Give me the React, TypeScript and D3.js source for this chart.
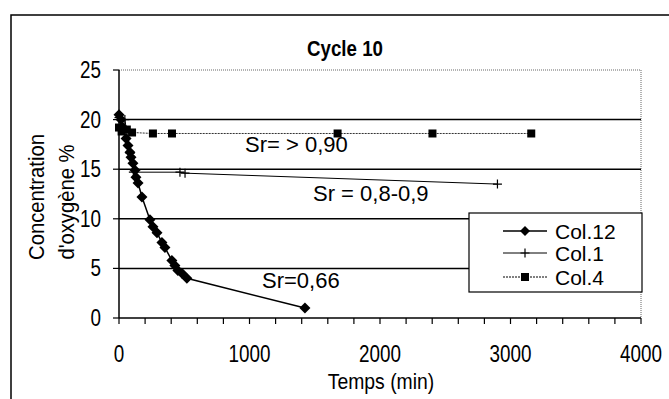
import React from "react";
import * as d3 from "d3";

const title = "Cycle 10";
const xTicks = [0, 1000, 2000, 3000, 4000];
const xMinorTicks = d3.range(0, 4001, 200);
const yTicks = [0, 5, 10, 15, 20, 25];
const xLabel = "Temps (min)";
const yLabelLines = ["Concentration", "d'oxygène %"];

const col12X = [0, 15, 30, 54, 69, 84, 92, 107, 123, 130, 146, 176, 237, 260, 291, 329, 352, 405, 428, 451, 482, 520, 1425];
const col12Y = [20.5, 20.0, 19.2, 18.1, 17.4, 16.7, 16.2, 15.6, 14.9, 14.2, 13.6, 12.2, 9.9, 9.2, 8.6, 7.6, 7.1, 5.8, 5.3, 4.8, 4.5, 4.0, 1.0];
const col1X = [0, 45, 85, 110, 467, 506, 2900];
const col1Y = [20.2, 20.0, 16.6, 14.7, 14.7, 14.6, 13.5];
const col4X = [0, 20, 60, 100, 260, 406, 1675, 2402, 3159];
const col4Y = [19.2, 18.8, 19.0, 18.7, 18.6, 18.6, 18.6, 18.6, 18.6];

const seriesNames = ["Col.12", "Col.1", "Col.4"];
const annotations = [
  { text: "Sr= > 0,90", x: 245, y: 152 },
  { text: "Sr = 0,8-0,9", x: 313, y: 201 },
  { text: "Sr=0,66", x: 262, y: 288 },
];

const FONT = "'Liberation Sans', Arial, sans-serif";

function Diamond({ cx, cy, r = 5.5 }: { cx: number; cy: number; r?: number }) {
  return <path d={`M${cx},${cy - r}L${cx + r},${cy}L${cx},${cy + r}L${cx - r},${cy}Z`} fill="#000" />;
}
function Square({ cx, cy, s = 8 }: { cx: number; cy: number; s?: number }) {
  return <rect x={cx - s / 2} y={cy - s / 2} width={s} height={s} fill="#000" />;
}
function Plus({ cx, cy, s = 4.5 }: { cx: number; cy: number; s?: number }) {
  return <path d={`M${cx - s},${cy}H${cx + s}M${cx},${cy - s}V${cy + s}`} stroke="#000" strokeWidth={1.2} fill="none" />;
}

function NText({ x, y, anchor = "start", size = 22, sx = 0.85, bold = false, children }: any) {
  return (
    <text transform={`translate(${x},${y}) scale(${sx},1)`} textAnchor={anchor} fontSize={size} fontWeight={bold ? "bold" : "normal"}>
      {children}
    </text>
  );
}

export default function App() {
  const x = d3.scaleLinear().domain([0, 4000]).range([119, 641]);
  const y = d3.scaleLinear().domain([0, 25]).range([318, 70]);
  const line = d3.line<[number, number]>().x((d) => x(d[0])).y((d) => y(d[1]));
  const s12 = col12X.map((v, i) => [v, col12Y[i]] as [number, number]);
  const s1 = col1X.map((v, i) => [v, col1Y[i]] as [number, number]);
  const s4 = col4X.map((v, i) => [v, col4Y[i]] as [number, number]);

  const legY = [231, 253, 277];

  return (
    <svg width={669} height={399} style={{ position: "absolute", left: 0, top: 0, background: "#fff" }} fontFamily={FONT}>
      <rect x={0} y={0} width={669} height={399} fill="#fff" />
      <rect x={11} y={15} width={700} height={420} fill="none" stroke="#000" strokeWidth={1.5} />
      <NText x={345} y={56} anchor="middle" size={22} sx={0.85} bold>{title}</NText>

      <line x1={x(0)} x2={x(4000)} y1={y(25)} y2={y(25)} stroke="#666" strokeWidth={1} strokeDasharray="1,1" />
      <line x1={x(4000)} x2={x(4000)} y1={y(25)} y2={y(0)} stroke="#666" strokeWidth={1} strokeDasharray="1,1" />
      {yTicks.filter((t) => t > 0 && t < 25).map((t) => (
        <line key={t} x1={x(0)} x2={x(4000)} y1={y(t)} y2={y(t)} stroke="#000" strokeWidth={1.5} />
      ))}
      <line x1={x(0)} x2={x(0)} y1={y(25)} y2={y(0)} stroke="#000" strokeWidth={1.5} />
      <line x1={x(0)} x2={x(4000)} y1={y(0)} y2={y(0)} stroke="#000" strokeWidth={1.5} />
      {yTicks.map((t) => (
        <g key={t}>
          <line x1={x(0) - 6} x2={x(0)} y1={y(t)} y2={y(t)} stroke="#000" strokeWidth={1.2} />
          <NText x={101} y={y(t) + 8} anchor="end" size={23} sx={0.82}>{t}</NText>
        </g>
      ))}
      {xMinorTicks.map((t) => (
        <line key={t} x1={x(t)} x2={x(t)} y1={y(0)} y2={y(0) + 6} stroke="#000" strokeWidth={1.2} />
      ))}
      {xTicks.map((t) => (
        <NText key={t} x={x(t)} y={362} anchor="middle" size={23} sx={0.82}>{t}</NText>
      ))}
      <NText x={381} y={389} anchor="middle" size={22} sx={0.88}>{xLabel}</NText>
      <text transform={`translate(44,197) rotate(-90) scale(0.92,1)`} textAnchor="middle" fontSize={22}>{yLabelLines[0]}</text>
      <text transform={`translate(74,202) rotate(-90) scale(0.92,1)`} textAnchor="middle" fontSize={22}>{yLabelLines[1]}</text>

      <path d={line(s4) || ""} fill="none" stroke="#333" strokeWidth={1} strokeDasharray="2,1" />
      <path d={line(s1) || ""} fill="none" stroke="#000" strokeWidth={1} />
      <path d={line(s12) || ""} fill="none" stroke="#000" strokeWidth={1.5} />
      {s4.map((d, i) => <Square key={i} cx={x(d[0])} cy={y(d[1])} />)}
      {s1.map((d, i) => <Plus key={i} cx={x(d[0])} cy={y(d[1])} />)}
      {s12.map((d, i) => <Diamond key={i} cx={x(d[0])} cy={y(d[1])} />)}

      {annotations.map((a, i) => (
        <text key={i} x={a.x} y={a.y} fontSize={22}>{a.text}</text>
      ))}

      <rect x={469} y={213} width={173} height={79} fill="#fff" stroke="#000" strokeWidth={1.2} />
      {seriesNames.map((n, i) => (
        <g key={n}>
          <line x1={503} x2={547} y1={legY[i]} y2={legY[i]} stroke="#000" strokeWidth={i === 0 ? 1.5 : 1} strokeDasharray={i === 2 ? "2,1" : undefined} />
          {i === 0 && <Diamond cx={525} cy={legY[i]} r={5} />}
          {i === 1 && <Plus cx={525} cy={legY[i]} />}
          {i === 2 && <Square cx={525} cy={legY[i]} />}
          <text x={555} y={legY[i] + 7.5} fontSize={21}>{n}</text>
        </g>
      ))}
    </svg>
  );
}
